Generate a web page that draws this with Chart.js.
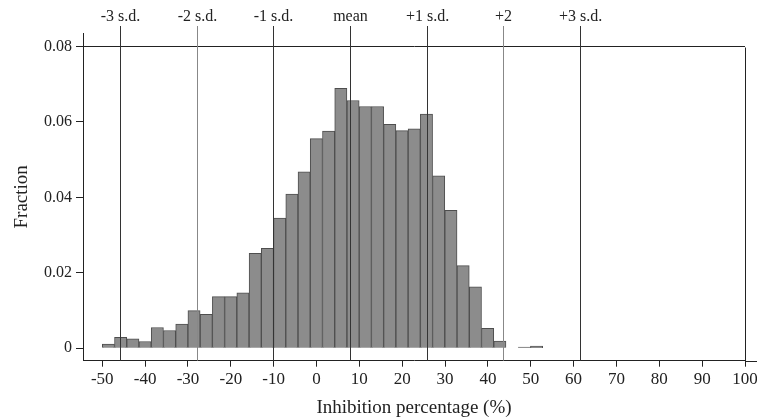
<!DOCTYPE html>
<html>
<head>
<meta charset="utf-8">
<script src="https://cdn.jsdelivr.net/npm/chart.js@4.4.1/dist/chart.umd.min.js"></script>
<style>
    html, body { margin: 0; padding: 0; background: #fff; }
    #wrap { width: 757px; height: 420px; position: relative; }
</style>
</head>
<body>
<div id="wrap"><canvas id="chart"></canvas></div>
<script>
// bin centres of the histogram (inhibition %), bin width ~2.85
const binCenters = [-48.57, -45.72, -42.86, -40.01, -37.15, -34.30, -31.44, -28.59, -25.73, -22.88,
    -20.02, -17.17, -14.31, -11.46, -8.60, -5.75, -2.89, -0.04, 2.82, 5.67,
    8.53, 11.38, 14.24, 17.09, 19.95, 22.80, 25.66, 28.51, 31.37, 34.22,
    37.08, 39.93, 42.79, 48.50, 51.35]
const fractions = [0.0011, 0.0029, 0.0025, 0.0018, 0.0055, 0.0047, 0.0064, 0.0100, 0.0090, 0.0137,
    0.0137, 0.0147, 0.0252, 0.0265, 0.0345, 0.0409, 0.0468, 0.0556, 0.0576, 0.0689,
    0.0657, 0.0641, 0.0641, 0.0594, 0.0577, 0.0582, 0.0621, 0.0457, 0.0366, 0.0219,
    0.0163, 0.0053, 0.0019, 0.0003, 0.0006]

const xTicks = [-50, -40, -30, -20, -10, 0, 10, 20, 30, 40, 50, 60, 70, 80, 90, 100]
const yTicks = [0, 0.02, 0.04, 0.06, 0.08]

// reference lines: mean and standard deviations
const sdLabels = ['-3 s.d.', '-2 s.d.', '-1 s.d.', 'mean', '+1 s.d.', '+2', '+3 s.d.']
const sdValues = [-45.9, -27.9, -10.1, 7.8, 25.7, 43.6, 61.5]
const sdColors = ['#333', '#888', '#333', '#333', '#333', '#888', '#333']

const FONT = '"Liberation Serif", "Times New Roman", serif'
const INK = '#222'

const sdLinesPlugin = {
    id: 'sdLines',
    afterDatasetsDraw(chart) {
        const {ctx, chartArea, scales: {x, y}} = chart
        ctx.save()
        ctx.lineWidth = 1
        sdValues.forEach((v, i) => {
            const px = Math.round(x.getPixelForValue(v)) + 0.5
            ctx.strokeStyle = sdColors[i]
            ctx.beginPath()
            ctx.moveTo(px, chartArea.top - 7)
            ctx.lineTo(px, chartArea.bottom)
            ctx.stroke()
            ctx.fillStyle = INK
            ctx.font = '16px ' + FONT
            ctx.textAlign = 'center'
            ctx.textBaseline = 'middle'
            ctx.fillText(sdLabels[i], px, chartArea.top - 16)
        })
        // right frame from 0.08 down, and axis line running to the edge
        const rx = Math.round(x.getPixelForValue(100)) + 0.5
        const ty = Math.round(y.getPixelForValue(0.08)) + 0.5
        ctx.strokeStyle = INK
        ctx.beginPath()
        ctx.moveTo(rx, ty)
        ctx.lineTo(rx, chartArea.bottom)
        ctx.stroke()
        ctx.beginPath()
        ctx.moveTo(chartArea.right, Math.round(chartArea.bottom) + 0.5)
        ctx.lineTo(chart.width, Math.round(chartArea.bottom) + 0.5)
        ctx.stroke()
        ctx.restore()
    }
}

new Chart(document.getElementById('chart'), {
    type: 'bar',
    data: {
        datasets: [{
            data: binCenters.map((c, i) => ({x: c, y: fractions[i]})),
            backgroundColor: '#8c8c8c',
            borderColor: '#4e4e4e',
            borderWidth: 1,
            barPercentage: 1,
            categoryPercentage: 1
        }]
    },
    options: {
        responsive: true,
        maintainAspectRatio: false,
        animation: false,
        layout: {padding: {top: 33, right: 12, left: 0, bottom: 0}},
        plugins: {legend: {display: false}, tooltip: {enabled: false}},
        scales: {
            x: {
                type: 'linear',
                offset: false,
                min: -54.5,
                max: 100,
                afterBuildTicks: (scale) => { scale.ticks = xTicks.map(v => ({value: v})) },
                afterFit: (scale) => {
                    scale.height = 59.3
                    scale.paddingLeft = 0
                    scale.paddingRight = 0
                },
                grid: {drawOnChartArea: false, drawTicks: true, tickLength: 6, color: INK, offset: false},
                border: {display: true, color: INK, width: 1},
                ticks: {color: INK, font: {family: FONT, size: 17}, padding: 3, maxRotation: 0, autoSkip: false},
                title: {display: true, text: 'Inhibition percentage (%)', color: INK,
                    font: {family: FONT, size: 19}, padding: {top: 0, bottom: 1}}
            },
            y: {
                min: -0.0033,
                max: 0.0836,
                afterBuildTicks: (scale) => { scale.ticks = yTicks.map(v => ({value: v})) },
                afterFit: (scale) => { scale.width = 83 },
                grid: {
                    drawTicks: true,
                    tickLength: 7,
                    tickColor: INK,
                    color: (c) => c.tick && c.tick.value === 0.08 ? INK : 'rgba(0,0,0,0)'
                },
                border: {display: true, color: INK, width: 1},
                ticks: {color: INK, font: {family: FONT, size: 16}, padding: 4,
                    callback: (v) => v === 0 ? '0' : v.toFixed(2)},
                title: {display: true, text: 'Fraction', color: INK,
                    font: {family: FONT, size: 19}, padding: {top: 11, bottom: 0}}
            }
        }
    },
    plugins: [sdLinesPlugin]
})
</script>
</body>
</html>
